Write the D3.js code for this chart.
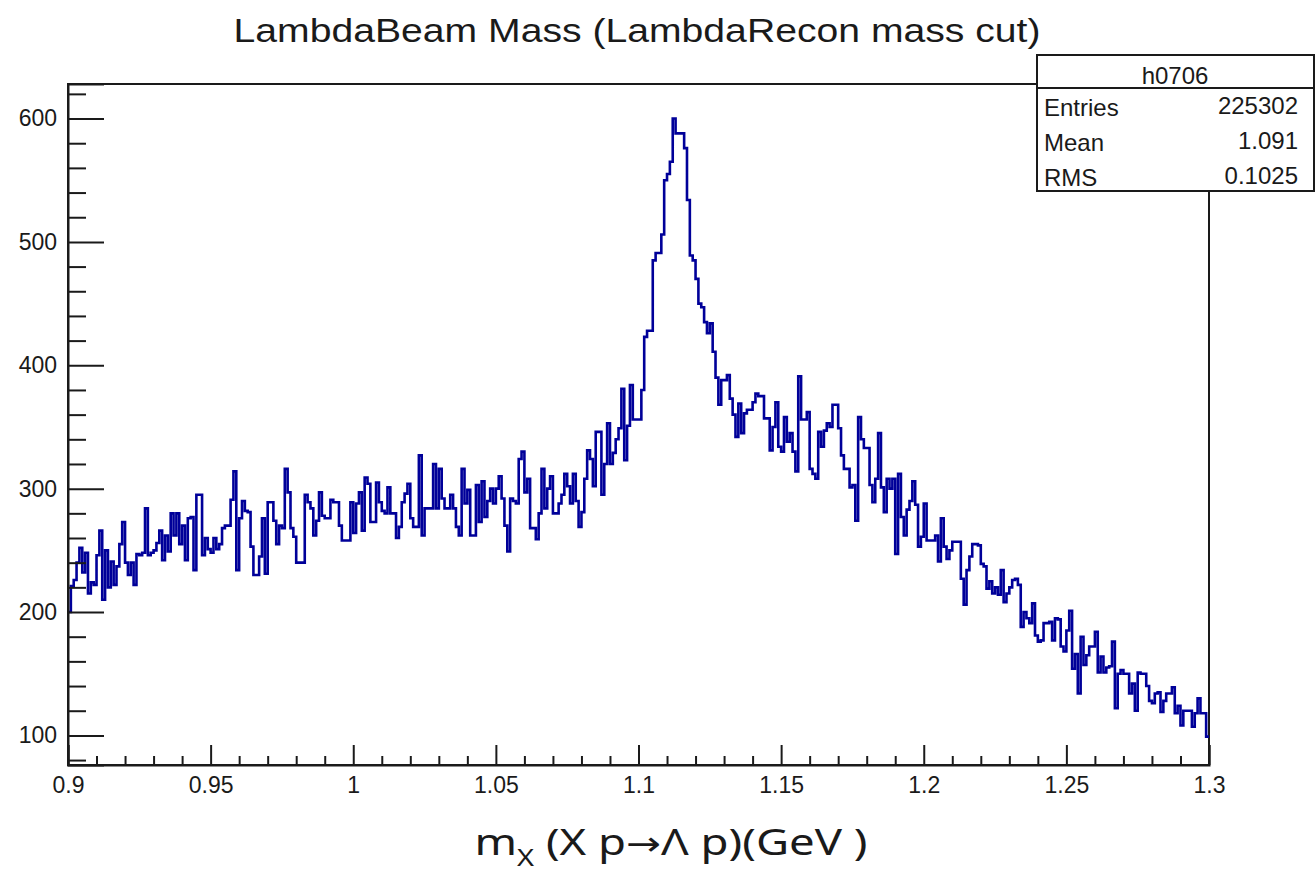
<!DOCTYPE html>
<html>
<head>
<meta charset="utf-8">
<script src="https://cdn.jsdelivr.net/npm/d3@7"></script>
<style>
  body { margin: 0; background: #fff; }
  svg { display: block; }
  text { font-family: "Liberation Sans", Arial, sans-serif; fill: #1a1a1a; }
</style>
</head>
<body>
<svg id="chart" width="1316" height="872"></svg>
<script>
// bin contents, 0.001 GeV bins (one array per 0.05 GeV)
const counts090 = [200,221,226,240,252,232,248,215,224,222, 246,266,210,250,220,241,222,237,255,273,
  240,230,240,222,247,246,248,284,246,248, 250,256,266,242,262,249,280,262,280,255,
  270,242,276,277,234,295,295,246,260,251];
const counts095 = [248,260,251,255,268,270,270,291,314,234, 276,290,282,281,253,230,230,245,276,231,
  289,289,274,255,270,268,316,297,268,261, 240,240,240,295,289,284,262,274,297,278,
  276,276,291,289,289,270,258,258,258,289];
const counts100 = [264,288,297,266,309,304,273,273,305,289, 282,280,301,280,280,260,269,289,296,304,
  276,269,269,327,262,284,284,284,320,284, 316,292,284,284,295,284,269,262,316,288,
  299,262,262,303,273,306,277,290,300,288];
const counts105 = [300,310,292,270,249,292,290,288,324,330, 297,308,268,268,259,280,316,284,300,310,
  280,280,288,295,312,302,288,312,290,269, 281,308,331,324,302,346,346,295,320,353,
  320,329,340,349,381,323,351,384,356,356];
const counts110 = [356,380,423,428,428,485,491,491,506,550, 555,565,600,588,588,588,576,534,489,485,
  470,450,447,435,426,434,411,390,368,388, 388,392,373,360,342,369,345,361,364,364,
  370,377,375,375,357,357,331,350,370,334];
const counts115 = [330,358,338,345,330,314,391,356,356,362, 316,312,308,346,334,347,353,350,368,368,
  349,327,316,316,301,303,274,358,340,333, 333,303,289,308,345,301,281,308,300,308,
  247,312,277,262,283,290,306,287,253,261];
const counts120 = [288,258,258,258,262,241,276,253,243,250, 257,257,257,227,206,234,245,255,255,254,
  239,237,219,225,215,220,214,234,208,215, 220,226,227,222,188,200,195,191,207,181,
  176,177,191,191,192,177,195,194,172,168];
const counts125 = [185,201,154,166,134,180,157,165,172,172, 184,151,164,151,155,156,176,122,150,153,
  150,150,134,142,120,151,150,150,140,128, 126,134,135,119,128,134,134,139,118,124,
  108,120,120,120,107,118,130,118,118,99];

const binLow = 0.9;
const binWidth = 0.001;
const xTicks = [0.9, 0.95, 1.0, 1.05, 1.1, 1.15, 1.2, 1.25, 1.3];
const yTicks = [100, 200, 300, 400, 500, 600];
const statLabels = ['Entries', 'Mean', 'RMS'];
const statValues = ['225302', '1.091', '0.1025'];
const histName = 'h0706';
const title = 'LambdaBeam Mass (LambdaRecon mass cut)';

const counts = [].concat(counts090, counts095, counts100, counts105,
                         counts110, counts115, counts120, counts125);

const svg = d3.select('#chart');
const ink = '#1a1a1a';

const x = d3.scaleLinear().domain([0.9, 1.3]).range([68, 1209]);
const y = d3.scaleLinear().domain([76, 628]).range([765, 84]);

// frame
svg.append('rect')
  .attr('x', x.range()[0]).attr('y', y.range()[1])
  .attr('width', x.range()[1] - x.range()[0])
  .attr('height', y.range()[0] - y.range()[1])
  .attr('fill', 'none').attr('stroke', ink).attr('stroke-width', 2);

// histogram as steps
const pts = counts.map((c, i) => [binLow + i * binWidth, c]);
pts.push([binLow + counts.length * binWidth, counts[counts.length - 1]]);

svg.append('path')
  .datum(pts)
  .attr('fill', 'none')
  .attr('stroke', '#000099')
  .attr('stroke-width', 2.6)
  .attr('d', d3.line().x(d => x(d[0])).y(d => y(d[1])).curve(d3.curveStepAfter));

// y axis, ticks pointing into the frame
const yMinor = d3.range(80, 621, 20).filter(v => v % 100 !== 0);
svg.append('g').attr('transform', `translate(${x.range()[0]},0)`)
  .call(d3.axisLeft(y).tickValues(yTicks).tickSize(-36).tickPadding(11).tickFormat(d3.format('d')));
svg.append('g').attr('transform', `translate(${x.range()[0]},0)`)
  .call(d3.axisLeft(y).tickValues(yMinor).tickSize(-18).tickFormat(''))
  .select('.domain').remove();

// x axis
const xMinor = d3.range(0, 41).map(i => 0.9 + i * 0.01).filter((v, i) => i % 5 !== 0);
svg.append('g').attr('transform', `translate(0,${y.range()[0]})`)
  .call(d3.axisBottom(x).tickValues(xTicks).tickSize(-20).tickPadding(12)
    .tickFormat(d => String(+d.toFixed(2))));
svg.append('g').attr('transform', `translate(0,${y.range()[0]})`)
  .call(d3.axisBottom(x).tickValues(xMinor).tickSize(-9).tickFormat(''))
  .select('.domain').remove();

svg.selectAll('.tick line, .domain').attr('stroke', ink).attr('stroke-width', 2);
svg.selectAll('.tick text').attr('font-size', 23).attr('fill', '#333')
  .style('font-family', '"Liberation Sans", Arial, sans-serif');

// title
svg.append('text')
  .attr('x', 637).attr('y', 42)
  .attr('text-anchor', 'middle')
  .attr('font-size', 33)
  .attr('textLength', 807).attr('lengthAdjust', 'spacingAndGlyphs')
  .text(title);

// stats box
const box = svg.append('g');
box.append('rect')
  .attr('x', 1037).attr('y', 55).attr('width', 277).attr('height', 136)
  .attr('fill', '#fff').attr('stroke', ink).attr('stroke-width', 2);
box.append('line')
  .attr('x1', 1037).attr('x2', 1314).attr('y1', 88).attr('y2', 88)
  .attr('stroke', ink).attr('stroke-width', 2);
box.append('text')
  .attr('x', 1175).attr('y', 84).attr('text-anchor', 'middle')
  .attr('font-size', 24).attr('fill', '#333').text(histName);
statLabels.forEach((lab, i) => {
  box.append('text').attr('x', 1044).attr('y', 116 + i * 35)
    .attr('font-size', 24).attr('fill', '#333').text(lab);
  box.append('text').attr('x', 1298).attr('y', 114 + i * 35)
    .attr('text-anchor', 'end').attr('font-size', 24).attr('fill', '#333').text(statValues[i]);
});

// x axis title
const xt = svg.append('text')
  .attr('x', 671).attr('y', 855)
  .attr('text-anchor', 'middle')
  .style('font-family', '"Noto Sans", "Open Sans", sans-serif')
  .attr('font-size', 36)
  .attr('fill', '#000')
  .attr('textLength', 393).attr('lengthAdjust', 'spacingAndGlyphs');
xt.append('tspan').text('m');
xt.append('tspan').attr('font-size', 23).attr('dy', 11).text('X');
xt.append('tspan').attr('dy', -11).text(' (X p');
xt.append('tspan').style('font-family', '"DejaVu Sans", sans-serif').attr('font-size', 33).text('\u2192');
xt.append('tspan').text('\u039B p)(GeV )');
</script>
</body>
</html>
